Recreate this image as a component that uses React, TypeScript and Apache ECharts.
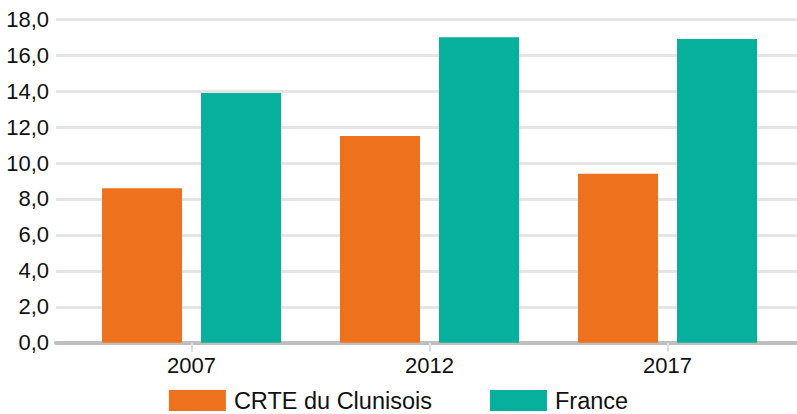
import React, { useEffect, useRef } from "react";
import * as echarts from "echarts";

const categories = ["2007", "2012", "2017"];
const seriesNames = ["CRTE du Clunisois", "France"];
const crteValues = [8.6, 11.5, 9.4];
const franceValues = [13.9, 17.0, 16.9];
const yMin = 0;
const yMax = 18;
const yInterval = 2;

const FONT = "'Liberation Sans', Arial, sans-serif";
const ORANGE = "#ee721e";
const TEAL = "#06b09d";

export default function App() {
  const ref = useRef<HTMLDivElement>(null);
  useEffect(() => {
    if (!ref.current) return;
    const chart = echarts.init(ref.current, undefined, { renderer: "svg" });
    const top = 19.3;
    const bottom = 414 - 342.7;
    chart.setOption({
      animation: false,
      textStyle: { fontFamily: FONT },
      grid: [
        { left: 56, right: 0, top, bottom },
        { left: 72.5, right: 10.5, top, bottom },
      ],
      legend: {
        data: seriesNames,
        bottom: 1.5,
        left: "center",
        icon: "rect",
        itemWidth: 57,
        itemHeight: 21,
        itemGap: 58,
        padding: 0,
        textStyle: {
          fontSize: 23.5,
          lineHeight: 21,
          color: "#111",
          fontFamily: FONT,
          padding: [0, 0, 0, 3],
        },
      },
      xAxis: [
        {
          gridIndex: 0,
          type: "category",
          data: categories,
          axisLine: { show: true, lineStyle: { color: "#bfbfbf", width: 4 } },
          axisTick: { show: false },
          axisLabel: { show: false },
          splitLine: { show: false },
        },
        {
          gridIndex: 1,
          type: "category",
          data: categories,
          axisLine: { show: false },
          axisTick: {
            show: true,
            alignWithLabel: true,
            length: 9,
            lineStyle: { color: "#dcdcdc", width: 2 },
          },
          axisLabel: { fontSize: 22, color: "#111", margin: 12, fontFamily: FONT },
        },
      ],
      yAxis: [
        {
          gridIndex: 0,
          type: "value",
          min: yMin,
          max: yMax,
          interval: yInterval,
          axisLine: { show: false },
          axisTick: { show: false },
          axisLabel: {
            fontSize: 22,
            color: "#111",
            margin: 7,
            fontFamily: FONT,
            formatter: (v: number) => v.toFixed(1).replace(".", ","),
          },
          splitLine: { show: true, lineStyle: { color: "#e5e5e5", width: 3 } },
        },
        {
          gridIndex: 1,
          type: "value",
          min: yMin,
          max: yMax,
          interval: yInterval,
          show: false,
          splitLine: { show: false },
        },
      ],
      series: [
        {
          name: seriesNames[0],
          type: "bar",
          xAxisIndex: 1,
          yAxisIndex: 1,
          data: crteValues,
          barWidth: 80,
          barGap: "23.75%",
          itemStyle: { color: ORANGE },
        },
        {
          name: seriesNames[1],
          type: "bar",
          xAxisIndex: 1,
          yAxisIndex: 1,
          data: franceValues,
          barWidth: 80,
          barGap: "23.75%",
          itemStyle: { color: TEAL },
        },
      ],
    });
    return () => chart.dispose();
  }, []);
  return (
    <div
      ref={ref}
      style={{ position: "absolute", left: 0, top: 0, width: 797, height: 414 }}
    />
  );
}
